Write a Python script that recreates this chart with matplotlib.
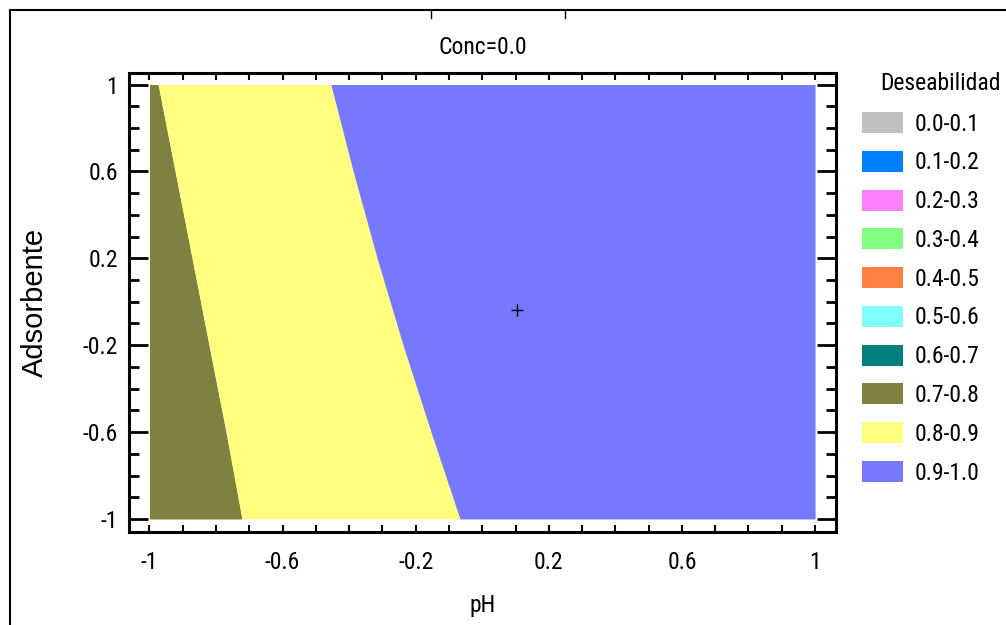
from matplotlib import pyplot as plt
from matplotlib import font_manager as fm
from matplotlib.font_manager import FontProperties
from matplotlib.patches import Patch
from matplotlib.lines import Line2D
from matplotlib.ticker import MultipleLocator, FixedLocator

# datos
adsorbente = [1.0, 0.6, 0.2, -0.2, -0.6, -1.0]
ph_borde_07_08 = [-1.0, -1.0, -1.0, -1.0, -1.0, -1.0]
ph_borde_08_09 = [-0.974, -0.923, -0.872, -0.821, -0.770, -0.722]
ph_borde_09_10 = [-0.455, -0.388, -0.316, -0.238, -0.154, -0.067]
ph_max = [1.0, 1.0, 1.0, 1.0, 1.0, 1.0]
optimo_ph = [0.104]
optimo_ads = [-0.038]

rangos = ['0.0-0.1', '0.1-0.2', '0.2-0.3', '0.3-0.4', '0.4-0.5',
          '0.5-0.6', '0.6-0.7', '0.7-0.8', '0.8-0.9', '0.9-1.0']
colores = ['#C0C0C0', '#0080FF', '#FF80FF', '#80FF80', '#FF8040',
           '#80FFFF', '#008080', '#808040', '#FFFF80', '#7878FF']
ticks = [-1, -0.6, -0.2, 0.2, 0.6, 1]
tick_labels = ['-1', '-0.6', '-0.2', '0.2', '0.6', '1']

# fuente estrecha si existe
names = {f.name for f in fm.fontManager.ttflist}
fp = None
for n in ['Liberation Sans Narrow', 'Arial Narrow', 'Roboto Condensed', 'Open Sans Condensed']:
    if n in names:
        fp = FontProperties(family=n, size=17)
        break
if fp is None:
    cand = FontProperties(family='DejaVu Sans', stretch='condensed')
    if 'Condensed' in fm.findfont(cand):
        fp = FontProperties(family='DejaVu Sans', stretch='condensed', size=15)
    else:
        fp = FontProperties(family='Liberation Sans', size=16)

fig = plt.figure(figsize=(10.06, 6.25), dpi=100)
ax = fig.add_axes([129/1006, 1-532/625, 707/1006, 459/625])

ax.fill_betweenx(adsorbente, ph_borde_07_08, ph_borde_08_09, color=colores[7], lw=0)
ax.fill_betweenx(adsorbente, ph_borde_08_09, ph_borde_09_10, color=colores[8], lw=0)
ax.fill_betweenx(adsorbente, ph_borde_09_10, ph_max, color=colores[9], lw=0)
ax.plot(optimo_ph, optimo_ads, marker='+', color='black', ms=8, mew=1, ls='none')

ax.set_xlim(-1.0616, 1.063)
ax.set_ylim(-1.06, 1.053)
ax.xaxis.set_major_locator(FixedLocator(ticks))
ax.yaxis.set_major_locator(FixedLocator(ticks))
ax.set_xticklabels(tick_labels, fontproperties=fp)
ax.set_yticklabels(tick_labels, fontproperties=fp)
ax.xaxis.set_minor_locator(MultipleLocator(0.1))
ax.yaxis.set_minor_locator(MultipleLocator(0.1))
ax.tick_params(axis='x', which='both', direction='in', top=True, length=5, width=1.5, pad=14)
ax.tick_params(axis='y', which='major', direction='in', right=True, length=14, width=2, pad=8)
ax.tick_params(axis='y', which='minor', direction='in', right=True, length=7, width=2)
for s in ax.spines.values():
    s.set_linewidth(2.2)

ax.set_title('Conc=0.0', fontproperties=fp, pad=14)
ax.set_xlabel('pH', fontproperties=fp, labelpad=14)
ax.set_ylabel('Adsorbente', fontfamily='Liberation Sans', fontsize=21, labelpad=24)

handles = [Patch(facecolor=c, edgecolor='none') for c in colores]
leg = fig.legend(handles, rangos, loc='upper left',
                 bbox_to_anchor=(862/1006, 1-112/625), frameon=False, prop=fp,
                 handlelength=1.75, handleheight=1.0, handletextpad=0.5,
                 labelspacing=0.64, borderaxespad=0, borderpad=0)
fig.text(940/1006, 1-84/625, 'Deseabilidad', fontproperties=fp, ha='center', va='center')

# marco exterior
fig.add_artist(Line2D([10/1006, 10/1006], [0, 1-10/625], color='black', lw=1.5))
fig.add_artist(Line2D([10/1006, 1], [1-10/625, 1-10/625], color='black', lw=1.5))
fig.add_artist(Line2D([431/1006, 431/1006], [1-10/625, 1-18/625], color='black', lw=1))
fig.add_artist(Line2D([565/1006, 565/1006], [1-10/625, 1-18/625], color='black', lw=1))

plt.savefig('out.png', dpi=100)
